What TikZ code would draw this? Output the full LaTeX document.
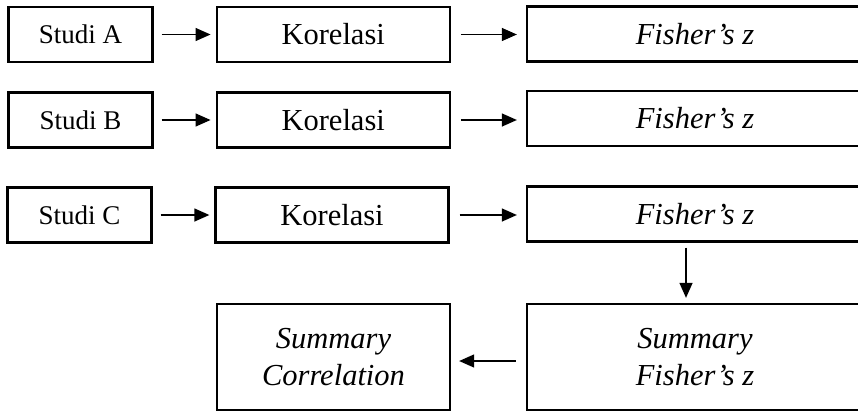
\documentclass[tikz,border=0pt]{standalone}
\usepackage{fontspec}
\setmainfont{Liberation Serif}
\usetikzlibrary{arrows.meta,calc}
\begin{document}
\begin{tikzpicture}[x=1pt,y=-1pt,
  box/.style={draw, line width=2.3pt, inner sep=0pt, anchor=center, align=center},
  studibox/.style={box, minimum width=144pt, minimum height=55pt, font=\fontsize{27}{32}\selectfont},
  korbox/.style={box, minimum width=233pt, minimum height=55pt, font=\fontsize{30.5}{37}\selectfont},
  fisbox/.style={box, minimum width=336pt, minimum height=55pt, font=\fontsize{30.5}{37}\selectfont\itshape},
  sumbox/.style={box, minimum height=106pt, font=\fontsize{30.5}{37}\selectfont\itshape},
  arr/.style={line width=1.3pt, -{Triangle[length=15pt,width=13pt]}}
]
\clip (0,0) rectangle (858,412);
\fill[white] (0,0) rectangle (858,412);

\node[studibox] (sa) at (80.5,34.5) {Studi A};
\node[korbox]   (ka) at (333.2,34.5) {Korelasi};
\node[fisbox]   (fa) at (695,34) {Fisher’s z};

\node[studibox] (sb) at (80.5,120) {Studi B};
\node[korbox]   (kb) at (333.2,120) {Korelasi};
\node[fisbox]   (fb) at (695,118.5) {Fisher’s z};

\node[studibox] (scc) at (79.5,215) {Studi C};
\node[korbox]   (kc) at (332,215) {Korelasi};
\node[fisbox]   (fc) at (695,214) {Fisher’s z};

\node[sumbox, minimum width=233pt] (sc) at (333.5,357) {Summary\\Correlation};
\node[sumbox, minimum width=336pt] (sf) at (695,357) {Summary\\Fisher’s z};

\coordinate (dn) at (686,0);

\draw[arr, shorten <=8pt, shorten >=5pt] (sa) -- (ka);
\draw[arr, shorten <=10pt, shorten >=9pt] (ka) -- (fa.west |- ka);
\draw[arr, shorten <=8pt, shorten >=5pt] (sb) -- (kb);
\draw[arr, shorten <=10pt, shorten >=9pt] (kb) -- (fb.west |- kb);
\draw[arr, shorten <=8pt, shorten >=5pt] (scc) -- (kc);
\draw[arr, shorten <=10pt, shorten >=9pt] (kc) -- (fc.west |- kc);

\draw[arr, shorten <=5pt, shorten >=5pt] (dn |- fc.south) -- (dn |- sf.north);
\draw[arr, shorten <=10pt, shorten >=8pt] ([yshift=-4pt]sf.west) -- ([yshift=-4pt]sc.east);
\end{tikzpicture}
\end{document}
